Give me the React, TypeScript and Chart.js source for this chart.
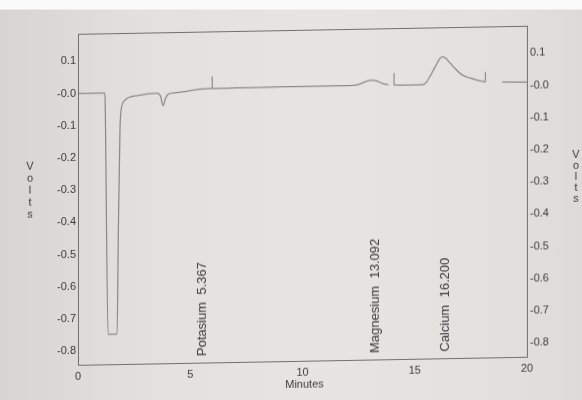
import { useEffect, useRef } from "react";
import { Chart, registerables } from "chart.js";

Chart.register(...registerables);

// Detector trace: retention time (min) and signal (V); null marks a break in the pen trace
const traceTimes = [
  0, 0.6, 1.19, 1.21, 1.34, 1.5, 1.74, 1.8, 1.87, 1.92, 2.1, 2.32, 2.77, 3.2, 3.55,
  3.68, 3.79, 3.9, 4.02, 4.3, 4.8, 5.37, 5.9, 7.0, 9.0, 11.0, 12.1, 12.45, 12.8,
  13.11, 13.35, 13.56, 13.83, 13.95, 14.08, 14.8, 15.2, 15.39, 15.55, 15.79, 16.0,
  16.12, 16.24, 16.35, 16.46, 16.73, 17.13, 17.48, 17.93, 18.15, 18.5, 18.9, 20,
];
const traceVolts = [
  0, 0, 0, -0.03, -0.75, -0.75, -0.75, -0.42, -0.116, -0.054, -0.023, -0.014, -0.009,
  -0.005, -0.004, -0.014, -0.043, -0.02, -0.008, -0.004, 0.0, 0.006, 0.0075, 0.008,
  0.009, 0.0095, 0.0095, 0.011, 0.02, 0.025, 0.021, 0.014, 0.009, null, 0.008, 0.0075,
  0.0075, 0.0085, 0.018, 0.047, 0.074, 0.088, 0.093, 0.09, 0.083, 0.061, 0.035, 0.026,
  0.016, 0.013, null, 0.0115, 0.01,
];

// Integrator event marks (time, trace level, top of mark)
const markTimes = [5.98, 14.08, 18.15];
const markBase = [0.0075, 0.008, 0.013];
const markTop = [0.045, 0.046, 0.044];

// Identified peaks
const peakNames = ["Potasium", "Magnesium", "Calcium"];
const peakTimes = [5.367, 13.092, 16.2];

// Axes
const xTickValues = [0, 5, 10, 15, 20];
const yTickValues = [0.1, 0, -0.1, -0.2, -0.3, -0.4, -0.5, -0.6, -0.7, -0.8];
const yTickLabels = ["0.1", "-0.0", "-0.1", "-0.2", "-0.3", "-0.4", "-0.5", "-0.6", "-0.7", "-0.8"];
const xTitle = "Minutes";
const yTitleLetters = ["V", "o", "l", "t", "s"];

const FONT = '"Liberation Sans", Arial, sans-serif';
const INK = "#3a3a3a";
const PEN = "#8a8a8a";

export default function App() {
  const canvasRef = useRef<HTMLCanvasElement | null>(null);

  useEffect(() => {
    const canvas = canvasRef.current;
    if (!canvas) return;

    const trace = traceTimes.map((t, i) => ({ x: t, y: traceVolts[i] }));
    const marks: { x: number; y: number | null }[] = [];
    markTimes.forEach((t, i) => {
      marks.push({ x: t, y: markBase[i] });
      marks.push({ x: t, y: markTop[i] });
      marks.push({ x: t, y: null });
    });

    const decorations = {
      id: "decorations",
      afterDraw(chart: any) {
        const { ctx, chartArea } = chart;
        const xs = chart.scales.x;
        ctx.save();
        // plot frame
        ctx.strokeStyle = "#707070";
        ctx.lineWidth = 1;
        ctx.strokeRect(
          Math.round(chartArea.left) + 0.5,
          Math.round(chartArea.top) + 0.5,
          Math.round(chartArea.right - chartArea.left),
          Math.round(chartArea.bottom - chartArea.top)
        );

        // peak annotations, written upward from the baseline
        ctx.fillStyle = INK;
        ctx.font = `13px ${FONT}`;
        ctx.textBaseline = "middle";
        ctx.textAlign = "left";
        peakNames.forEach((name, i) => {
          const px = xs.getPixelForValue(peakTimes[i]) + 3.5;
          ctx.save();
          ctx.translate(px, chartArea.bottom - 6.5);
          ctx.rotate(-Math.PI / 2);
          ctx.fillText(`${name}  ${peakTimes[i].toFixed(3)}`, 0, 0);
          ctx.restore();
        });

        // x title
        ctx.font = `11px ${FONT}`;
        ctx.textAlign = "center";
        ctx.fillText(xTitle, xs.getPixelForValue(10) + 2, 385);

        // stacked y titles on both sides
        yTitleLetters.forEach((ch, i) => {
          ctx.fillText(ch, 30, 162 + i * 12);
          ctx.fillText(ch, 576, 160 + i * 11);
        });
        ctx.restore();
      },
    };

    const yCommon = (position: "left" | "right", width: number) => ({
      type: "linear" as const,
      position,
      min: -0.843,
      max: 0.185,
      grid: { display: false, drawTicks: false },
      border: { display: false },
      afterBuildTicks: (s: any) => {
        s.ticks = yTickValues.map((v) => ({ value: v }));
      },
      afterFit: (s: any) => {
        s.width = width;
      },
      ticks: {
        padding: position === "left" ? 2 : 3,
        color: INK,
        font: { family: FONT, size: 11 },
        callback: (_v: any, i: number) => yTickLabels[i],
      },
    });

    const chart = new Chart(canvas, {
      type: "line",
      data: {
        datasets: [
          {
            data: trace as any,
            borderColor: PEN,
            borderWidth: 1.25,
            pointRadius: 0,
            cubicInterpolationMode: "monotone",
            spanGaps: false,
          },
          {
            data: marks as any,
            borderColor: PEN,
            borderWidth: 1.2,
            pointRadius: 0,
            tension: 0,
            spanGaps: false,
          },
        ],
      },
      options: {
        responsive: false,
        animation: false,
        devicePixelRatio: 1,
        layout: { padding: { top: 30, left: 0, right: 0, bottom: 0 } },
        plugins: { legend: { display: false }, tooltip: { enabled: false } },
        scales: {
          x: {
            type: "linear",
            min: 0,
            max: 20,
            grid: { display: false, drawTicks: false },
            border: { display: false },
            afterBuildTicks: (s: any) => {
              s.ticks = xTickValues.map((v) => ({ value: v }));
            },
            afterFit: (s: any) => {
              s.height = 39;
            },
            ticks: {
              padding: 5,
              maxRotation: 0,
              color: INK,
              font: { family: FONT, size: 11 },
            },
          },
          y: yCommon("left", 78),
          y2: yCommon("right", 55),
        },
      },
      plugins: [decorations],
    });

    return () => chart.destroy();
  }, []);

  return (
    <div
      style={{
        position: "fixed",
        left: 0,
        top: 0,
        width: 582,
        height: 400,
        overflow: "hidden",
        background:
          "linear-gradient(to bottom, #fbfbfb 0px, #fbfbfb 9px, rgba(0,0,0,0) 10px), linear-gradient(to right, #d6d5d1 0%, #e2e1dd 25%, #e6e5e1 55%, #e2e1de 85%, #dcdbd8 100%)",
      }}
    >
      <canvas
        ref={canvasRef}
        width={582}
        height={400}
        style={{
          position: "absolute",
          left: 0,
          top: 0,
          transform: "skewY(-1.03deg)",
          transformOrigin: "291px 200px",
        }}
      />
    </div>
  );
}
